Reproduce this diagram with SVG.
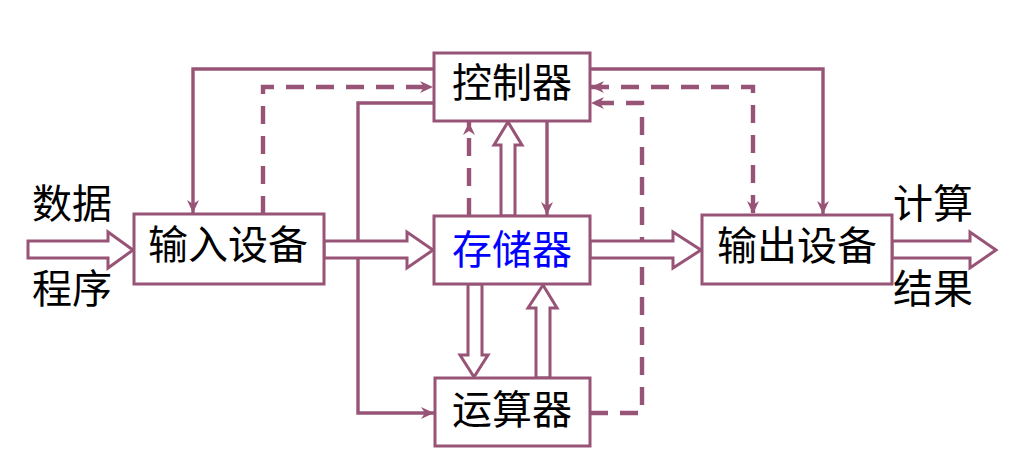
<svg xmlns="http://www.w3.org/2000/svg" width="1036" height="473" viewBox="0 0 1036 473">
<style>
.box{fill:#fff;stroke:#985477;stroke-width:3}
.ln{fill:none;stroke:#985477;stroke-width:3.4}
.dash{stroke-width:4.4;stroke-dasharray:18,12}
.hol{fill:#fff;stroke:#985477;stroke-width:3;stroke-linejoin:miter}
.t{font-family:"Noto Sans CJK SC","Noto Sans",sans-serif;font-size:40px;text-anchor:middle;fill:#000}
</style>
<defs>
<marker id="ah" markerUnits="userSpaceOnUse" markerWidth="14" markerHeight="14" viewBox="0 0 14 14" refX="13" refY="7" orient="auto-start-reverse">
<path d="M0,1 L13,7 L0,13 L4,7 z" fill="#985477"/>
</marker>
</defs>
<rect width="1036" height="473" fill="#fff"/>
<g id="connectors">
<path class="ln" d="M434,69 H193 V213" marker-end="url(#ah)"/>
<path class="ln dash" d="M263,214 V87 H433" marker-end="url(#ah)"/>
<path class="ln" d="M434,103 H358 V413 H434" marker-end="url(#ah)"/>
<path class="ln dash" d="M469,216 V122" marker-end="url(#ah)"/>
<path class="ln" d="M547,121 V215" marker-end="url(#ah)"/>
<path class="ln" d="M590,69 H823 V214" marker-end="url(#ah)"/>
<path class="ln dash" d="M591,87 H753 V214" marker-start="url(#ah)" marker-end="url(#ah)"/>
<path class="ln dash" d="M590,413 H642 V103 H591" marker-end="url(#ah)"/>
<polygon class="hol" points="28,241 108,241 108,232 133,250 108,268 108,258 28,258"/>
<polygon class="hol" points="324,241 407,241 407,232 433,250 407,268 407,258 324,258"/>
<polygon class="hol" points="590,241 673,241 673,232 701,250 673,268 673,258 590,258"/>
<polygon class="hol" points="892,241 970,241 970,232 996,250 970,268 970,258 892,258"/>
<polygon class="hol" points="501,216 501,145 494,145 508,122 522,145 515,145 515,216"/>
<polygon class="hol" points="468,284 468,355 460,355 474,377 488,355 482,355 482,284"/>
<polygon class="hol" points="536,378 536,308 528,308 543,285 557,308 550,308 550,378"/>
</g>
<g id="input"><rect class="box" x="134" y="214" width="190" height="70"/><text class="t" x="228" y="259">输入设备</text></g>
<g id="controller"><rect class="box" x="434" y="53" width="156" height="68"/><text class="t" x="512" y="97">控制器</text></g>
<g id="memory"><rect class="box" x="434" y="216" width="156" height="68"/><text class="t" x="512" y="264" style="fill:#0000ff">存储器</text></g>
<g id="alu"><rect class="box" x="435" y="378" width="155" height="68"/><text class="t" x="512" y="424">运算器</text></g>
<g id="output"><rect class="box" x="702" y="215" width="190" height="69"/><text class="t" x="797" y="260">输出设备</text></g>
<g id="labels">
<text class="t" x="72" y="218">数据</text>
<text class="t" x="72" y="303">程序</text>
<text class="t" x="933" y="218">计算</text>
<text class="t" x="933" y="303">结果</text>
</g>
</svg>
